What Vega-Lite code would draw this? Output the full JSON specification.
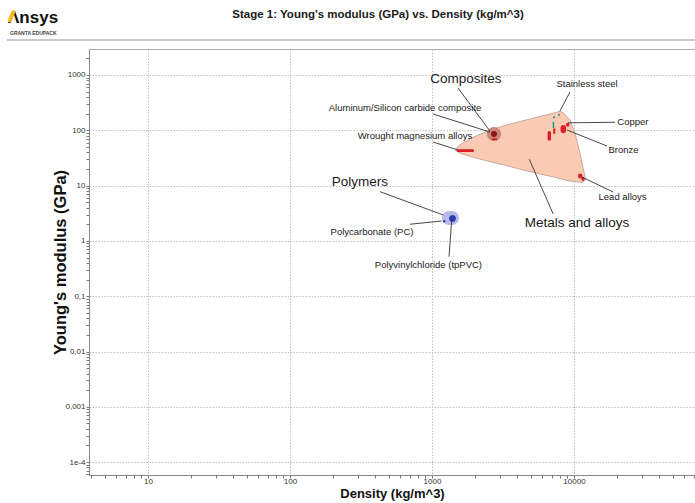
{
  "$schema": "https://vega.github.io/schema/vega-lite/v6.json",
  "width": 606,
  "height": 426,
  "autosize": "none",
  "padding": {"left": 89, "top": 49, "right": 0, "bottom": 28},
  "background": "#ffffff",
  "config": {
    "font": "Liberation Sans",
    "view": {"stroke": "#a8a8a8", "strokeWidth": 1}
  },
  "datasets": {
    "envelope": [
      {"i": 1, "density": 1452, "modulus": 44.04},
      {"i": 2, "density": 1500, "modulus": 49.28},
      {"i": 3, "density": 1653, "modulus": 59.68},
      {"i": 4, "density": 1944, "modulus": 74.7},
      {"i": 5, "density": 2562, "modulus": 101.3},
      {"i": 6, "density": 3358, "modulus": 124.7},
      {"i": 7, "density": 4374, "modulus": 149.2},
      {"i": 8, "density": 5762, "modulus": 177.7},
      {"i": 9, "density": 6776, "modulus": 197.2},
      {"i": 10, "density": 7969, "modulus": 220.6},
      {"i": 11, "density": 8503, "modulus": 203.0},
      {"i": 12, "density": 9372, "modulus": 153.6},
      {"i": 13, "density": 10160, "modulus": 89.4},
      {"i": 14, "density": 11020, "modulus": 38.87},
      {"i": 15, "density": 11760, "modulus": 17.62},
      {"i": 16, "density": 12050, "modulus": 12.63},
      {"i": 17, "density": 11380, "modulus": 11.38},
      {"i": 18, "density": 8927, "modulus": 12.37},
      {"i": 19, "density": 7553, "modulus": 13.9},
      {"i": 20, "density": 5762, "modulus": 16.21},
      {"i": 21, "density": 4374, "modulus": 19.15},
      {"i": 22, "density": 3358, "modulus": 22.91},
      {"i": 23, "density": 2562, "modulus": 27.05},
      {"i": 24, "density": 1944, "modulus": 32.5},
      {"i": 25, "density": 1575, "modulus": 38.38}
    ],
    "families": [
      {"family": "Composites", "group": "composites-family", "dmin": 2438, "dmax": 3063, "emin": 64.1, "emax": 114.8},
      {"family": "Polymers", "group": "polymers-family", "dmin": 1175, "dmax": 1549, "emin": 1.94, "emax": 3.47}
    ],
    "materials": [
      {"name": "Wrought magnesium alloys", "group": "metal", "dmin": 1494, "dmax": 1977, "emin": 40.6, "emax": 45.3},
      {"name": "Aluminum alloys", "group": "metal", "dmin": 2627, "dmax": 2885, "emin": 65.9, "emax": 71.6},
      {"name": "Aluminum/Silicon carbide composite", "group": "composite", "dmin": 2600, "dmax": 2871, "emin": 75.7, "emax": 97.0},
      {"name": "Zinc alloys", "group": "metal", "dmin": 6520, "dmax": 6887, "emin": 64.9, "emax": 97.0},
      {"name": "Cast iron", "group": "metal", "dmin": 7142, "dmax": 7386, "emin": 85.7, "emax": 108.7},
      {"name": "Stainless steel A", "group": "stainless", "dmin": 7080, "dmax": 7263, "emin": 108.6, "emax": 143.2},
      {"name": "Stainless steel B", "group": "stainless", "dmin": 7107, "dmax": 7346, "emin": 164.8, "emax": 179.0},
      {"name": "Stainless steel C", "group": "stainless", "dmin": 7709, "dmax": 7969, "emin": 183.6, "emax": 199.6},
      {"name": "Bronze", "group": "metal", "dmin": 8046, "dmax": 8790, "emin": 88.3, "emax": 124.7},
      {"name": "Copper", "group": "metal", "dmin": 8790, "dmax": 9277, "emin": 116, "emax": 137},
      {"name": "Lead alloys", "group": "metal", "dmin": 10670, "dmax": 11470, "emin": 13.4, "emax": 16.6},
      {"name": "Lead alloys (cast)", "group": "metal", "dmin": 11290, "dmax": 11850, "emin": 12.1, "emax": 14.3},
      {"name": "Polyvinylchloride (tpPVC)", "group": "polymer", "dmin": 1318, "dmax": 1476, "emin": 2.2, "emax": 2.94},
      {"name": "Polycarbonate (PC)", "group": "polymer", "dmin": 1195, "dmax": 1244, "emin": 2.15, "emax": 2.39}
    ],
    "leaders": [
      {"label": "Composites", "x": 1524, "y": 582, "x2": 2558, "y2": 97.0},
      {"label": "Aluminum/Silicon carbide composite", "x": 1016, "y": 197.4, "x2": 2558, "y2": 93.0},
      {"label": "Wrought magnesium alloys", "x": 1016, "y": 61.4, "x2": 1524, "y2": 44.0},
      {"label": "Stainless steel", "x": 9376, "y": 493, "x2": 7961, "y2": 223},
      {"label": "Copper", "x": 9078, "y": 136.5, "x2": 19450, "y2": 139.7},
      {"label": "Bronze", "x": 8940, "y": 101.2, "x2": 17070, "y2": 52.0},
      {"label": "Lead alloys", "x": 11370, "y": 14.3, "x2": 18840, "y2": 7.66},
      {"label": "Metals and alloys", "x": 4843, "y": 29.9, "x2": 7142, "y2": 3.06},
      {"label": "Polymers", "x": 430.5, "y": 7.76, "x2": 1202, "y2": 2.94},
      {"label": "Polycarbonate (PC)", "x": 699.5, "y": 2.0, "x2": 1169, "y2": 2.29},
      {"label": "Polyvinylchloride (tpPVC)", "x": 1377, "y": 2.39, "x2": 1318, "y2": 0.518}
    ],
    "texts": [
      {"kind": "family", "text": "Composites", "x": 1734, "y": 847},
      {"kind": "family", "text": "Metals and alloys", "x": 10500, "y": 2.11},
      {"kind": "family", "text": "Polymers", "x": 311, "y": 11.6},
      {"kind": "material", "text": "Aluminum/Silicon carbide composite", "x": 646, "y": 253},
      {"kind": "material", "text": "Wrought magnesium alloys", "x": 759, "y": 78.9},
      {"kind": "material", "text": "Stainless steel", "x": 12360, "y": 687},
      {"kind": "material", "text": "Copper", "x": 26000, "y": 141},
      {"kind": "material", "text": "Bronze", "x": 22340, "y": 44.0},
      {"kind": "material", "text": "Lead alloys", "x": 21990, "y": 6.22},
      {"kind": "material", "text": "Polycarbonate (PC)", "x": 378, "y": 1.45},
      {"kind": "material", "text": "Polyvinylchloride (tpPVC)", "x": 944, "y": 0.366},
      {"kind": "title", "text": "Stage 1: Young's modulus (GPa) vs. Density (kg/m^3)", "x": 417, "y": 12160},
      {"kind": "logo", "text": "Λnsys", "x": 1.033, "y": 8892},
      {"kind": "brand", "text": "GRANTA EDUPACK", "x": 1.067, "y": 5741}
    ],
    "decor": [
      {"part": "separator", "x": 1.016, "y": 4297, "x2": 71150, "y2": 4297},
      {"part": "logo-stroke", "x": 1.053, "y": 9078, "x2": 1.138, "y2": 14660}
    ]
  },
  "layer": [
    {
      "data": {"name": "envelope"},
      "mark": {"type": "line", "interpolate": "linear-closed", "fill": "#fbcab3", "stroke": "#b39d94", "strokeWidth": 0.8},
      "encoding": {
        "x": {
          "field": "density", "type": "quantitative",
          "scale": {"type": "log", "domain": [3.842, 71150], "nice": false},
          "axis": {
            "title": "Density (kg/m^3)", "titleFontSize": 13, "titleFontWeight": "bold", "titleColor": "#111", "titlePadding": 2,
            "values": [4,5,6,7,8,9,10,20,30,40,50,60,70,80,90,100,200,300,400,500,600,700,800,900,1000,2000,3000,4000,5000,6000,7000,8000,9000,10000,20000,30000,40000,50000,60000,70000],
            "labelExpr": "abs(log(datum.value)/LN10 - round(log(datum.value)/LN10)) < 0.001 ? format(datum.value, 'd') : ''",
            "labelFontSize": 8, "labelColor": "#333", "labelPadding": -1, "labelOverlap": false, "labelFlush": false,
            "tickSize": 3, "tickColor": "#777", "domainColor": "#888",
            "grid": true, "gridColor": "#c0c0c0", "gridDash": [1.5, 1.5],
            "gridOpacity": {"condition": {"test": "abs(log(datum.value)/LN10 - round(log(datum.value)/LN10)) < 0.001", "value": 1}, "value": 0}
          }
        },
        "y": {
          "field": "modulus", "type": "quantitative",
          "scale": {"type": "log", "domain": [5.85e-5, 2951], "nice": false},
          "axis": {
            "title": "Young's modulus (GPa)", "titleFontSize": 16.5, "titleFontWeight": "bold", "titleColor": "#111", "titlePadding": -4,
            "values": [6e-5,7e-5,8e-5,9e-5,1e-4,2e-4,3e-4,4e-4,5e-4,6e-4,7e-4,8e-4,9e-4,0.001,0.002,0.003,0.004,0.005,0.006,0.007,0.008,0.009,0.01,0.02,0.03,0.04,0.05,0.06,0.07,0.08,0.09,0.1,0.2,0.3,0.4,0.5,0.6,0.7,0.8,0.9,1,2,3,4,5,6,7,8,9,10,20,30,40,50,60,70,80,90,100,200,300,400,500,600,700,800,900,1000,2000],
            "labelExpr": "abs(log(datum.value)/LN10 - round(log(datum.value)/LN10)) < 0.001 ? (datum.value >= 0.9 ? format(datum.value, 'd') : datum.value > 0.05 ? '0,1' : datum.value > 0.005 ? '0,01' : datum.value > 0.0005 ? '0,001' : '1e-4') : ''",
            "labelFontSize": 8, "labelColor": "#333", "labelPadding": 1, "labelOverlap": false, "labelFlush": false,
            "tickSize": 3, "tickColor": "#777", "domainColor": "#888",
            "grid": true, "gridColor": "#c0c0c0", "gridDash": [1.5, 1.5],
            "gridOpacity": {"condition": {"test": "abs(log(datum.value)/LN10 - round(log(datum.value)/LN10)) < 0.001", "value": 1}, "value": 0}
          }
        },
        "order": {"field": "i", "type": "quantitative"}
      }
    },
    {
      "data": {"name": "families"},
      "mark": {"type": "rect", "cornerRadius": 20},
      "encoding": {
        "x": {"field": "dmin", "type": "quantitative"},
        "x2": {"field": "dmax"},
        "y": {"field": "emin", "type": "quantitative"},
        "y2": {"field": "emax"},
        "color": {"field": "group", "type": "nominal", "legend": null,
          "scale": {"domain": ["metal", "stainless", "composite", "polymer", "composites-family", "polymers-family"],
                    "range": ["#dc1f26", "#17998b", "#8c1515", "#2b3db0", "#c68a77", "#b7bbe8"]}}
      }
    },
    {
      "data": {"name": "materials"},
      "mark": {"type": "rect", "cornerRadius": 20},
      "encoding": {
        "x": {"field": "dmin", "type": "quantitative"},
        "x2": {"field": "dmax"},
        "y": {"field": "emin", "type": "quantitative"},
        "y2": {"field": "emax"},
        "color": {"field": "group", "type": "nominal", "legend": null,
          "scale": {"domain": ["metal", "stainless", "composite", "polymer", "composites-family", "polymers-family"],
                    "range": ["#dc1f26", "#17998b", "#8c1515", "#2b3db0", "#c68a77", "#b7bbe8"]}}
      }
    },
    {
      "data": {"name": "leaders"},
      "mark": {"type": "rule", "color": "#333333", "strokeWidth": 0.9},
      "encoding": {
        "x": {"field": "x", "type": "quantitative"},
        "y": {"field": "y", "type": "quantitative"},
        "x2": {"field": "x2"},
        "y2": {"field": "y2"}
      }
    },
    {
      "data": {"name": "texts"},
      "transform": [{"filter": "datum.kind === 'family'"}],
      "mark": {"type": "text", "fontSize": 13.5, "align": "center", "baseline": "middle", "color": "#1a1a1a"},
      "encoding": {
        "x": {"field": "x", "type": "quantitative"},
        "y": {"field": "y", "type": "quantitative"},
        "text": {"field": "text"}
      }
    },
    {
      "data": {"name": "texts"},
      "transform": [{"filter": "datum.kind === 'material'"}],
      "mark": {"type": "text", "fontSize": 9.5, "align": "center", "baseline": "middle", "color": "#1a1a1a"},
      "encoding": {
        "x": {"field": "x", "type": "quantitative"},
        "y": {"field": "y", "type": "quantitative"},
        "text": {"field": "text"}
      }
    },
    {
      "data": {"name": "texts"},
      "transform": [{"filter": "datum.kind === 'title'"}],
      "mark": {"type": "text", "fontSize": 11.5, "fontWeight": "bold", "align": "center", "baseline": "middle", "color": "#1a1a1a"},
      "encoding": {
        "x": {"field": "x", "type": "quantitative"},
        "y": {"field": "y", "type": "quantitative"},
        "text": {"field": "text"}
      }
    },
    {
      "data": {"name": "texts"},
      "transform": [{"filter": "datum.kind === 'logo'"}],
      "mark": {"type": "text", "fontSize": 17, "fontWeight": "bold", "align": "left", "baseline": "alphabetic", "color": "#111111"},
      "encoding": {
        "x": {"field": "x", "type": "quantitative"},
        "y": {"field": "y", "type": "quantitative"},
        "text": {"field": "text"}
      }
    },
    {
      "data": {"name": "texts"},
      "transform": [{"filter": "datum.kind === 'brand'"}],
      "mark": {"type": "text", "fontSize": 5, "fontWeight": "bold", "align": "left", "baseline": "middle", "color": "#444444"},
      "encoding": {
        "x": {"field": "x", "type": "quantitative"},
        "y": {"field": "y", "type": "quantitative"},
        "text": {"field": "text"}
      }
    },
    {
      "data": {"name": "decor"},
      "transform": [{"filter": "datum.part === 'logo-stroke'"}],
      "mark": {"type": "rule", "color": "#ffb71b", "strokeWidth": 3.8},
      "encoding": {
        "x": {"field": "x", "type": "quantitative"},
        "y": {"field": "y", "type": "quantitative"},
        "x2": {"field": "x2"},
        "y2": {"field": "y2"}
      }
    },
    {
      "data": {"name": "decor"},
      "transform": [{"filter": "datum.part === 'separator'"}],
      "mark": {"type": "rule", "color": "#b8b8b8", "strokeWidth": 1.5},
      "encoding": {
        "x": {"field": "x", "type": "quantitative"},
        "y": {"field": "y", "type": "quantitative"},
        "x2": {"field": "x2"},
        "y2": {"field": "y2"}
      }
    }
  ]
}
